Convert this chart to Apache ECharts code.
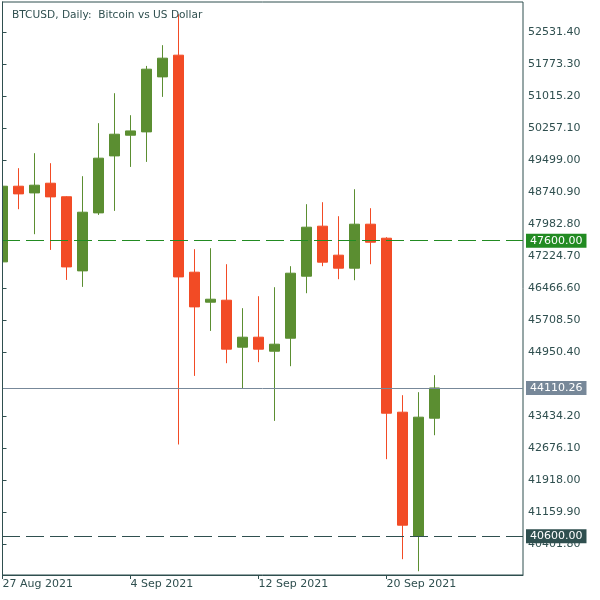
<!DOCTYPE html>
<html><head><meta charset="utf-8">
<script src="https://cdn.jsdelivr.net/npm/echarts@6/dist/echarts.min.js"></script>
<style>html,body{margin:0;padding:0;background:#fff}#c{width:600px;height:600px}</style>
</head><body><div id="c"></div>
<script>
// ---- data ----
const dates = ['27 Aug 2021','28 Aug 2021','29 Aug 2021','30 Aug 2021','31 Aug 2021','1 Sep 2021','2 Sep 2021','3 Sep 2021',
  '4 Sep 2021','5 Sep 2021','6 Sep 2021','7 Sep 2021','8 Sep 2021','9 Sep 2021','10 Sep 2021','11 Sep 2021',
  '12 Sep 2021','13 Sep 2021','14 Sep 2021','15 Sep 2021','16 Sep 2021','17 Sep 2021','18 Sep 2021','19 Sep 2021',
  '20 Sep 2021','21 Sep 2021','22 Sep 2021','23 Sep 2021'];
const opens  = [47097,48890,48731,48961,48640,46884,48258,49608,50098,50177,51480,51994,46853,46142,46189,45076,45313,44981,45289,46758,47943,47256,46948,47990,47658,43536,40598,43394];
const closes = [48890,48708,48914,48637,46978,48274,49554,50122,50200,51662,51923,46741,46031,46213,45029,45313,45029,45147,46829,47919,47090,46948,47990,47563,43512,40859,43418,44110.26];
const lows   = [47097,48345,47753,47381,46670,46505,48210,48305,49347,49466,51006,42771,44396,45462,44697,44088,44721,43330,44626,46355,46995,46687,46663,47042,42423,40054,39769,42991];
const highs  = [48890,49317,49672,49435,48653,49127,50383,51093,50572,51740,52231,52965,47398,47421,47042,46000,46284,46497,46995,48464,48511,48179,48819,48369,47682,43939,44010,44413];
const yTickLabels = [40401.80,41159.90,41918.00,42676.10,43434.20,44950.40,45708.50,46466.60,47224.70,47982.80,48740.90,49499.00,50257.10,51015.20,51773.30,52531.40];
const xTickIdx = [0,8,16,24];
const levels = [47600.00, 40600.00];
const lastPrice = closes[closes.length-1];
const titleText = 'BTCUSD, Daily:  Bitcoin vs US Dollar';

// ---- styles ----
const AX = '#2F4F4F', GREEN = '#5B8E31', RED = '#F24B25';
const FONT = 'DejaVu Sans';

const chart = echarts.init(document.getElementById('c'), null, {renderer:'canvas'});
const lbl = {show:true, position:'end', distance:3, color:'#fff', fontFamily:FONT, fontSize:11,
  padding:[1,4,1,4], lineHeight:12, formatter: p => Number(p.value).toFixed(2)};
chart.setOption({
  animation:false,
  backgroundColor:'#fff',
  textStyle:{fontFamily:FONT},
  title:{text:titleText, left:7, top:5, textStyle:{fontFamily:FONT, fontSize:10.6, fontWeight:'normal', color:AX}},
  grid:{left:2, right:77, top:2, bottom:25, show:true, borderColor:AX, borderWidth:1, containLabel:false, outerBoundsMode:'none'},
  // frame cover: hides the part of the first candle that falls left of the plot frame
  graphic:[
    {type:'rect', z:100, silent:true, shape:{x:0, y:0, width:2, height:600}, style:{fill:'#fff'}},
    {type:'line', z:101, silent:true, shape:{x1:2.5, y1:2, x2:2.5, y2:576}, style:{stroke:AX, lineWidth:1}}
  ],
  xAxis:{type:'value', min:-0.03125, max:32.53125,
    axisLine:{show:true, lineStyle:{color:AX, width:1}},
    axisTick:{show:true, length:4, customValues:xTickIdx, lineStyle:{color:AX}},
    axisLabel:{show:true, customValues:xTickIdx, align:'left', margin:4, color:AX, fontFamily:FONT, fontSize:11,
      formatter: v => dates[Math.round(v)] || ''},
    splitLine:{show:false}},
  yAxis:{type:'value', position:'right', min:39679.2, max:53254, scale:true,
    axisLine:{show:true, lineStyle:{color:AX, width:1}},
    axisTick:{show:true, length:4, customValues:yTickLabels, lineStyle:{color:AX}},
    axisLabel:{show:true, customValues:yTickLabels, margin:5, color:AX, fontFamily:FONT, fontSize:11,
      formatter: v => Number(v).toFixed(2)},
    splitLine:{show:false}},
  series:[{
    type:'candlestick',
    data: opens.map((o,i)=>[i, o, closes[i], lows[i], highs[i]]),
    encode:{x:0, y:[1,2,3,4]},
    barWidth:10,
    clip:true,
    silent:true,
    itemStyle:{color:GREEN, color0:RED, borderColor:GREEN, borderColor0:RED, borderWidth:1},
    markLine:{
      silent:true, symbol:['none','none'], animation:false,
      label:lbl,
      data:[
        {yAxis:levels[0], lineStyle:{color:'#228B22', type:[18,6], width:1}, label:Object.assign({}, lbl, {backgroundColor:'#228B22'})},
        {yAxis:lastPrice, lineStyle:{color:'#778899', type:'solid', width:1}, label:Object.assign({}, lbl, {backgroundColor:'#778899'})},
        {yAxis:levels[1], lineStyle:{color:AX, type:[18,6], width:1}, label:Object.assign({}, lbl, {backgroundColor:AX})}
      ]
    }
  }]
});
</script>
</body></html>
